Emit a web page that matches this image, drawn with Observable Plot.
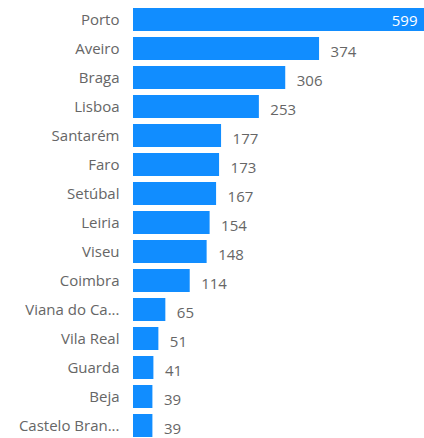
<!DOCTYPE html>
<html>
<head>
<meta charset="utf-8">
<script src="https://cdn.jsdelivr.net/npm/d3@7"></script>
<script src="https://cdn.jsdelivr.net/npm/@observablehq/plot@0.6"></script>
<style>
  html, body { margin: 0; padding: 0; background: #fff; overflow: hidden; }
  #chart svg { display: block; }
</style>
</head>
<body>
<div id="chart"></div>
<script>
const districts = ["Porto", "Aveiro", "Braga", "Lisboa", "Santarém", "Faro", "Setúbal", "Leiria", "Viseu", "Coimbra", "Viana do Ca...", "Vila Real", "Guarda", "Beja", "Castelo Bran..."];
const counts = [599, 374, 306, 253, 177, 173, 167, 154, 148, 114, 65, 51, 41, 39, 39];

const data = districts.map((d, i) => ({district: d, count: counts[i]}));
const insideThreshold = 500;

const chart = Plot.plot({
  width: 424,
  height: 438,
  marginLeft: 133,
  marginRight: 0,
  marginTop: 0,
  marginBottom: 0,
  style: {fontFamily: "'Segoe UI', 'Open Sans', sans-serif", fontSize: "15px", color: "#666"},
  x: {domain: [0, 599], range: [133, 431], axis: null},
  y: {domain: districts, range: [-1.2, 446], padding: 0.21, label: null, tickSize: 0, tickPadding: 14},
  marks: [
    Plot.barX(data, {x: "count", y: "district", fill: "#118DFF"}),
    Plot.text(data.filter(d => d.count < insideThreshold), {
      x: "count", y: "district", text: d => String(d.count),
      textAnchor: "start", dx: 11, dy: 3, fill: "#666", fontSize: 15
    }),
    Plot.text(data.filter(d => d.count >= insideThreshold), {
      x: "count", y: "district", text: d => String(d.count),
      textAnchor: "end", dx: -14, dy: 1, fill: "#fff", fontSize: 15
    })
  ]
});
document.getElementById("chart").append(chart);
</script>
</body>
</html>
